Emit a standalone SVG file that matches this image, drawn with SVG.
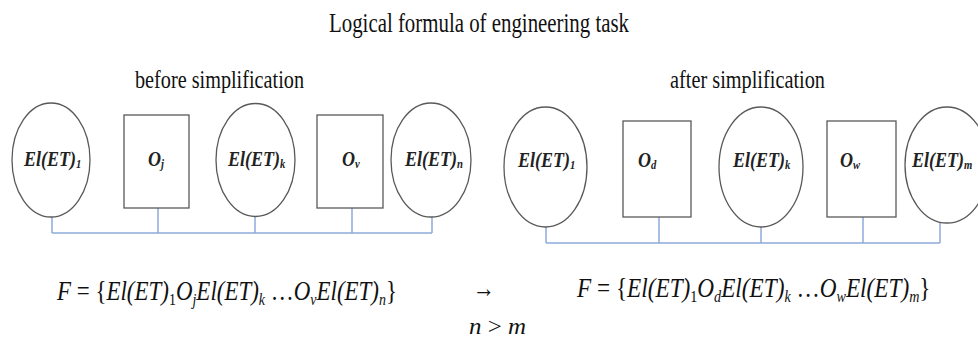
<svg xmlns="http://www.w3.org/2000/svg" width="978" height="338" viewBox="0 0 978 338">
<style>
.bg{fill:#ffffff}
.shape{fill:#ffffff;stroke:#595959;stroke-width:1.3}
.conn{fill:none;stroke:#8eaadb;stroke-width:1.5}
.title{font-family:"Liberation Serif","Times New Roman",serif;font-size:27px;fill:#111}
.sub{font-family:"Liberation Serif","Times New Roman",serif;font-size:26px;fill:#111}
.lbl{font-family:"Liberation Serif","Times New Roman",serif;font-style:italic;font-weight:bold;font-size:22px;fill:#222}
.lbl .s{font-size:13px}
.f{font-family:"Liberation Serif","Times New Roman",serif;font-style:italic;font-size:28px;fill:#111}
.f .s{font-size:17px}
.f .u{font-style:normal}
</style>
<rect class="bg" x="0" y="0" width="978" height="338"/>
<text class="title" x="329" y="32" textLength="300" lengthAdjust="spacingAndGlyphs">Logical formula of engineering task</text>
<text class="sub" x="135" y="88" textLength="169" lengthAdjust="spacingAndGlyphs">before simplification</text>
<text class="sub" x="670" y="88" textLength="155" lengthAdjust="spacingAndGlyphs">after simplification</text>

<g id="connectors">
<path class="conn" d="M52 217V233M158 208V233M255 216V233M352 208V233M432 217V233M52 233H432"/>
<path class="conn" d="M546 227V243M659 217V243M761 227V243M863 217V243M940 222V243M546 243H940"/>
</g>

<g id="L1"><ellipse class="shape" cx="51" cy="160" rx="39" ry="57"/><text class="lbl" transform="translate(24,166) scale(0.82,1)">El(ET)<tspan class="s" dy="2">1</tspan></text></g>
<g id="L2"><rect class="shape" x="124" y="115" width="65" height="93"/><text class="lbl" transform="translate(148,166) scale(0.82,1)">O<tspan class="s" dy="2">j</tspan></text></g>
<g id="L3"><ellipse class="shape" cx="255.5" cy="160" rx="39.5" ry="56.5"/><text class="lbl" transform="translate(228,166) scale(0.82,1)">El(ET)<tspan class="s" dy="2">k</tspan></text></g>
<g id="L4"><rect class="shape" x="317" y="115" width="66" height="93"/><text class="lbl" transform="translate(342,166) scale(0.82,1)">O<tspan class="s" dy="2">v</tspan></text></g>
<g id="L5"><ellipse class="shape" cx="431" cy="160" rx="40" ry="57"/><text class="lbl" transform="translate(405,166) scale(0.82,1)">El(ET)<tspan class="s" dy="2">n</tspan></text></g>

<g id="R1"><ellipse class="shape" cx="545.5" cy="167" rx="41.5" ry="60"/><text class="lbl" transform="translate(518,167) scale(0.82,1)">El(ET)<tspan class="s" dy="2">1</tspan></text></g>
<g id="R2"><rect class="shape" x="623" y="121" width="68" height="96"/><text class="lbl" transform="translate(638,167) scale(0.82,1)">O<tspan class="s" dy="2">d</tspan></text></g>
<g id="R3"><ellipse class="shape" cx="761" cy="167" rx="42" ry="60"/><text class="lbl" transform="translate(733,167) scale(0.82,1)">El(ET)<tspan class="s" dy="2">k</tspan></text></g>
<g id="R4"><rect class="shape" x="827" y="121" width="69" height="96"/><text class="lbl" transform="translate(840,167) scale(0.82,1)">O<tspan class="s" dy="2">w</tspan></text></g>
<g id="R5"><ellipse class="shape" cx="947" cy="165" rx="42" ry="58"/><text class="lbl" transform="translate(912,167) scale(0.82,1)">El(ET)<tspan class="s" dy="2">m</tspan></text></g>

<text class="f" transform="translate(57,300) scale(0.82,1)">F <tspan class="u">= {</tspan>El(ET)<tspan class="s u" dy="5">1</tspan><tspan dy="-5">O</tspan><tspan class="s" dy="5">j</tspan><tspan dy="-5">El(ET)</tspan><tspan class="s" dy="5">k</tspan><tspan dy="-5" class="u"> …</tspan><tspan dy="0">O</tspan><tspan class="s" dy="5">v</tspan><tspan dy="-5">El(ET)</tspan><tspan class="s" dy="5">n</tspan><tspan dy="-5" class="u">}</tspan></text>
<text class="f" transform="translate(577,297) scale(0.83,1)">F <tspan class="u">= {</tspan>El(ET)<tspan class="s u" dy="5">1</tspan><tspan dy="-5">O</tspan><tspan class="s" dy="5">d</tspan><tspan dy="-5">El(ET)</tspan><tspan class="s" dy="5">k</tspan><tspan dy="-5" class="u"> …</tspan><tspan dy="0">O</tspan><tspan class="s" dy="5">w</tspan><tspan dy="-5">El(ET)</tspan><tspan class="s" dy="5">m</tspan><tspan dy="-5" class="u">}</tspan></text>
<text class="f" x="473" y="297" style="font-style:normal;font-size:26px" textLength="22" lengthAdjust="spacingAndGlyphs">→</text>
<text class="f" x="469" y="334" style="font-size:24px" textLength="57" lengthAdjust="spacingAndGlyphs">n <tspan class="u">&gt;</tspan> m</text>
</svg>
